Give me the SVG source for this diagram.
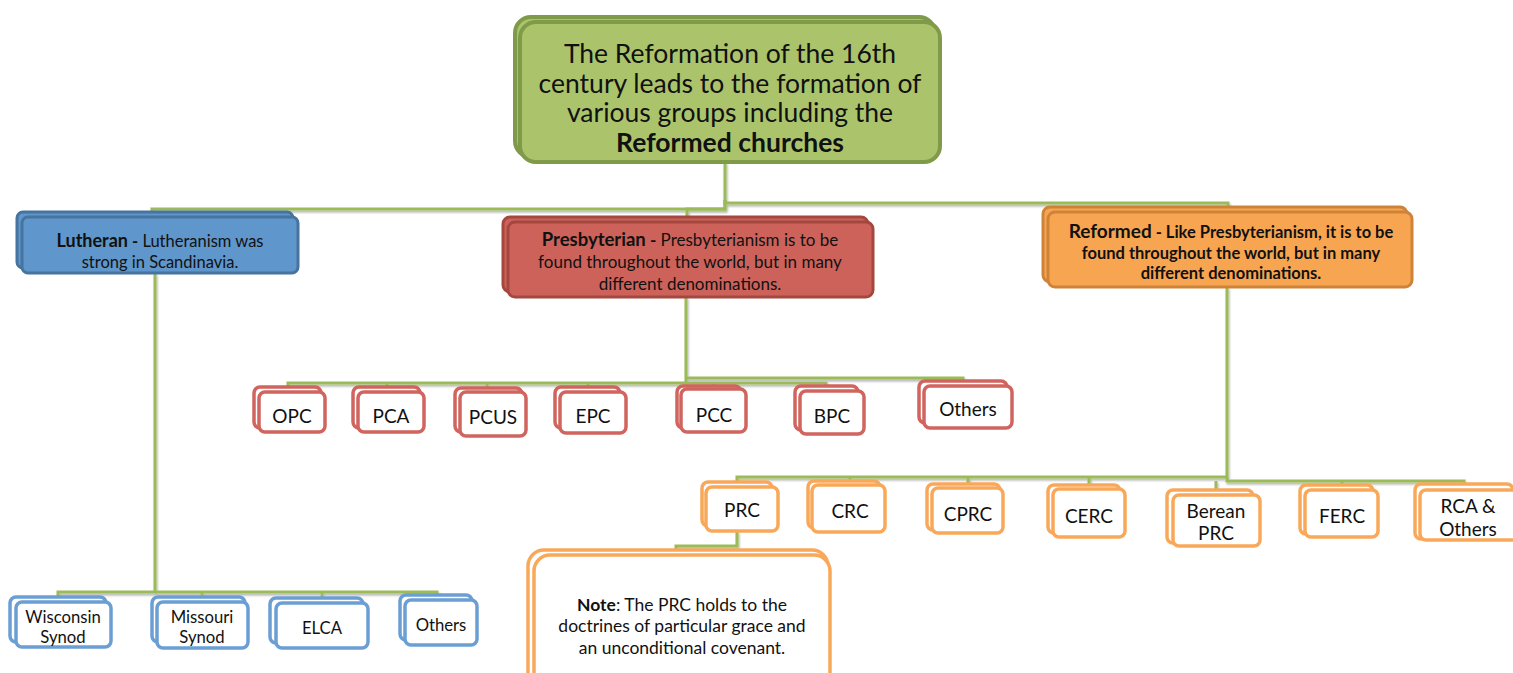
<svg xmlns="http://www.w3.org/2000/svg" width="1513" height="673" viewBox="0 0 1513 673">
<defs>
<filter id="sh" x="-10%" y="-10%" width="120%" height="140%">
<feDropShadow dx="1" dy="2" stdDeviation="1.2" flood-color="#000" flood-opacity="0.3"/>
</filter>
<style>
text{font-family:Lato,"Liberation Sans",sans-serif;fill:#111;text-anchor:middle}
.b{font-weight:bold}
.con path{fill:none;stroke:#9bbb59;stroke-width:3}
.green rect{fill:#abc46c;stroke:#7f9a48;stroke-width:4}
.blue rect{fill:#5f96cb;stroke:#47739f;stroke-width:3}
.red rect{fill:#cd625b;stroke:#a4483f;stroke-width:3}
.orange rect{fill:#f8a552;stroke:#cf8338;stroke-width:3}
.cb rect{fill:#fff;stroke:#6b9fd3;stroke-width:3.5}
.cr rect{fill:#fff;stroke:#d1645e;stroke-width:3.5}
.co rect{fill:#fff;stroke:#f9a85a;stroke-width:3.5}
.t17{font-size:19px}
.t16{font-size:16.7px}
.tr{font-size:26.5px}
</style>
</defs>

<g class="con" filter="url(#sh)">
<path d="M725 162 V209 H152 V217"/>
<path d="M725 200 V209 H687 V222"/>
<path d="M725 200 V203 H1228 V212"/>
<path d="M155 273 V592 H58 V602"/>
<path d="M155 592 H437 V600"/>
<path d="M202 592 V602"/>
<path d="M322 592 V603"/>
<path d="M686 297 V383 H288 V392"/>
<path d="M387 383 V392"/>
<path d="M487 383 V392"/>
<path d="M588 383 V392"/>
<path d="M686 383 H826 V391"/>
<path d="M686 378 H963 V386"/>
<path d="M714 383 V389"/>
<path d="M1227 287 V477 H737 V487"/>
<path d="M850 477 V485"/>
<path d="M968 477 V488"/>
<path d="M1089 477 V489"/>
<path d="M1227 477 V481 H1464 V490"/>
<path d="M1216 481 V495"/>
<path d="M1342 481 V490"/>
<path d="M737 531 V546 H676 V555"/>
</g>

<g id="root" class="green">
<rect x="515" y="17" width="420" height="140" rx="16"/>
<rect x="520" y="22" width="420" height="140" rx="16"/>
<text x="730" y="63" class="tr">The Reformation of the 16th</text>
<text x="730" y="93" class="tr">century leads to the formation of</text>
<text x="730" y="122" class="tr">various groups including the</text>
<text x="730" y="152" class="tr b">Reformed churches</text>
</g>

<g id="lutheran" class="blue">
<rect x="17" y="212" width="276" height="56" rx="6"/>
<rect x="22" y="217" width="276" height="56" rx="6"/>
<text x="160" y="247" style="font-size:16.5px"><tspan class="b" style="font-size:18px">Lutheran</tspan><tspan class="b"> -</tspan> Lutheranism was</text>
<text x="160" y="268" style="font-size:16.5px">strong in Scandinavia.</text>
</g>

<g id="presbyterian" class="red">
<rect x="503" y="217" width="365" height="75" rx="7"/>
<rect x="508" y="222" width="365" height="75" rx="7"/>
<text x="690" y="246" style="font-size:17px"><tspan class="b" style="font-size:18.5px">Presbyterian</tspan><tspan class="b"> -</tspan> Presbyterianism is to be</text>
<text x="690" y="268" style="font-size:17px">found throughout the world, but in many</text>
<text x="690" y="290" style="font-size:17px">different denominations.</text>
</g>

<g id="reformed" class="orange">
<rect x="1043" y="207" width="364" height="75" rx="7"/>
<rect x="1048" y="212" width="364" height="75" rx="7"/>
<text x="1231" y="238" class="b" style="font-size:16.5px"><tspan style="font-size:19px">Reformed</tspan> - Like Presbyterianism, it is to be</text>
<text x="1231" y="259" class="b" style="font-size:16.5px">found throughout the world, but in many</text>
<text x="1231" y="279" class="b" style="font-size:16.5px">different denominations.</text>
</g>

<g id="wisconsin" class="cb">
<rect x="10" y="597" width="96" height="45" rx="6"/>
<rect x="16" y="602" width="95" height="45" rx="6"/>
<text x="63" y="623" class="t16">Wisconsin</text>
<text x="63" y="643" class="t16">Synod</text>
</g>
<g id="missouri" class="cb">
<rect x="152" y="597" width="93" height="45" rx="6"/>
<rect x="157" y="602" width="91" height="46" rx="6"/>
<text x="202" y="623" class="t16">Missouri</text>
<text x="202" y="643" class="t16">Synod</text>
</g>
<g id="elca" class="cb">
<rect x="270" y="598" width="93" height="45" rx="6"/>
<rect x="276" y="603" width="92" height="45" rx="6"/>
<text x="322" y="634" class="t16">ELCA</text>
</g>
<g id="lothers" class="cb">
<rect x="400" y="595" width="72" height="45" rx="6"/>
<rect x="405" y="600" width="72" height="45" rx="6"/>
<text x="441" y="631" class="t16">Others</text>
</g>

<g id="opc" class="cr">
<rect x="254" y="387" width="67" height="41" rx="6"/>
<rect x="259" y="392" width="66" height="40" rx="6"/>
<text x="292" y="423" class="t17">OPC</text>
</g>
<g id="pca" class="cr">
<rect x="353" y="387" width="67" height="41" rx="6"/>
<rect x="358" y="392" width="66" height="40" rx="6"/>
<text x="391" y="423" class="t17">PCA</text>
</g>
<g id="pcus" class="cr">
<rect x="455" y="388" width="67" height="44" rx="6"/>
<rect x="460" y="392" width="66" height="44" rx="6"/>
<text x="493" y="424" class="t17">PCUS</text>
</g>
<g id="epc" class="cr">
<rect x="555" y="387" width="65" height="41" rx="6"/>
<rect x="560" y="392" width="66" height="41" rx="6"/>
<text x="593" y="423" class="t17">EPC</text>
</g>
<g id="pcc" class="cr">
<rect x="677" y="386" width="64" height="42" rx="6"/>
<rect x="681" y="389" width="65" height="43" rx="6"/>
<text x="714" y="422" class="t17">PCC</text>
</g>
<g id="bpc" class="cr">
<rect x="795" y="386" width="63" height="44" rx="6"/>
<rect x="800" y="391" width="64" height="43" rx="6"/>
<text x="832" y="423" class="t17">BPC</text>
</g>
<g id="pothers" class="cr">
<rect x="919" y="381" width="88" height="42" rx="6"/>
<rect x="924" y="386" width="88" height="42" rx="6"/>
<text x="968" y="416" class="t17">Others</text>
</g>

<g id="prc" class="co">
<rect x="702" y="482" width="70" height="44" rx="6"/>
<rect x="706" y="487" width="72" height="44" rx="6"/>
<text x="742" y="517" class="t17">PRC</text>
</g>
<g id="crc" class="co">
<rect x="808" y="481" width="72" height="47" rx="6"/>
<rect x="812" y="485" width="73" height="47" rx="6"/>
<text x="850" y="518" class="t17">CRC</text>
</g>
<g id="cprc" class="co">
<rect x="927" y="484" width="73" height="46" rx="6"/>
<rect x="932" y="488" width="71" height="45" rx="6"/>
<text x="968" y="521" class="t17">CPRC</text>
</g>
<g id="cerc" class="co">
<rect x="1048" y="485" width="72" height="48" rx="6"/>
<rect x="1053" y="489" width="72" height="48" rx="6"/>
<text x="1089" y="523" class="t17">CERC</text>
</g>
<g id="berean" class="co">
<rect x="1167" y="490" width="86" height="53" rx="6"/>
<rect x="1173" y="495" width="87" height="51" rx="6"/>
<text x="1216" y="518" class="t17">Berean</text>
<text x="1216" y="540" class="t17">PRC</text>
</g>
<g id="ferc" class="co">
<rect x="1300" y="485" width="73" height="49" rx="6"/>
<rect x="1305" y="490" width="73" height="47" rx="6"/>
<text x="1342" y="523" class="t17">FERC</text>
</g>
<g id="rca" class="co">
<rect x="1415" y="484" width="98" height="55" rx="6"/>
<rect x="1420" y="490" width="98" height="50" rx="6"/>
<text x="1468" y="513" class="t17">RCA &amp;</text>
<text x="1468" y="536" class="t17">Others</text>
</g>

<g id="note" class="co">
<rect x="528" y="550" width="300" height="140" rx="16"/>
<rect x="534" y="555" width="296" height="140" rx="16"/>
<text x="682" y="611" style="font-size:17.5px"><tspan class="b">Note</tspan>: The PRC holds to the</text>
<text x="682" y="632" style="font-size:17.5px">doctrines of particular grace and</text>
<text x="682" y="654" style="font-size:17.5px">an unconditional covenant.</text>
</g>
</svg>
